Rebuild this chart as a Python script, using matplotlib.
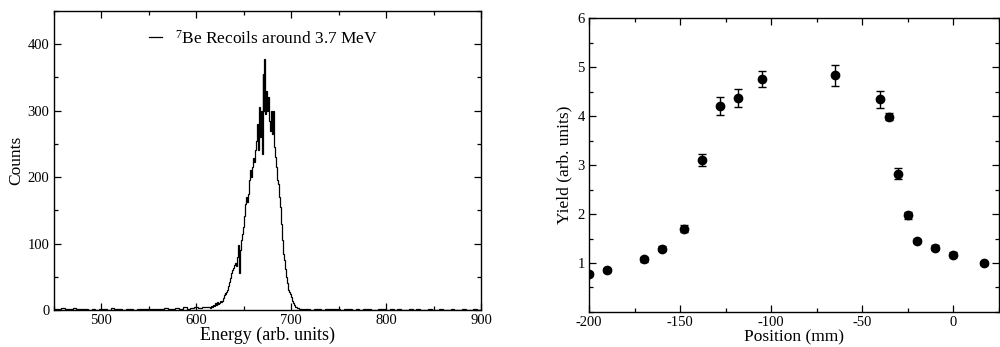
import numpy as np
import matplotlib.pyplot as plt
from matplotlib.ticker import MultipleLocator, FixedLocator

plt.rcParams['font.family'] = ['Liberation Serif', 'DejaVu Serif']
plt.rcParams['mathtext.fontset'] = 'custom'
plt.rcParams['mathtext.rm'] = 'Liberation Serif'
plt.rcParams['mathtext.it'] = 'Liberation Serif:italic'
plt.rcParams['axes.unicode_minus'] = False

# --- left panel: 7Be recoil energy spectrum ---
# background below the peak, 4-unit bins starting at 450
bg_left_start = 450
bg_left_width = 4
bg_left_counts = [2, 1, 3, 2, 1, 3, 2, 1, 2, 0, 1, 0, 1, 1, 0, 3, 1, 1, 0, 1,
                  1, 0, 1, 2, 1, 1, 2, 1, 2, 3, 1, 2, 3, 2, 4, 2, 3, 4, 3, 4, 5]
# peak region, 1-unit bins starting at 614
peak_start = 614
peak_counts = [4, 3, 6, 5, 8, 6, 10, 7, 12, 9, 11, 14, 12, 13, 18, 22, 25, 24, 27, 30,
               36, 42, 48, 55, 60, 63, 68, 70, 66, 80, 98, 55, 90, 105, 115, 125, 130, 142, 160, 170,
               163, 175, 195, 210, 200, 215, 228, 222, 240, 255, 280, 240, 305, 260, 300, 235, 355, 300, 378, 295,
               330, 300, 320, 285, 270, 300, 265, 300, 245, 230, 215, 195, 190, 170, 155, 130, 125, 105, 85, 75,
               62, 50, 40, 30, 27, 24, 20, 14, 10, 7, 5, 4, 3, 3, 2, 1, 2, 1, 1, 0,
               1, 1]
# background above the peak, 4-unit bins starting at 716
bg_right_start = 716
bg_right_width = 4
bg_right_counts = [1, 0, 1, 1, 0, 1, 1, 2, 1, 0, 1, 1, 0, 1, 0, 1, 1, 0, 0, 1,
                   1, 0, 2, 0, 1, 0, 0, 1, 0, 1, 0, 0, 1, 0, 0, 1, 0, 0, 1, 0,
                   0, 1, 0, 0, 1, 0]

# --- right panel: yield vs position ---
position = [-200, -190, -170, -160, -148, -138, -128, -118, -105, -65,
            -40, -35, -30, -25, -20, -10, 0, 17]
yield_val = [0.77, 0.85, 1.08, 1.29, 1.70, 3.10, 4.20, 4.37, 4.76, 4.83,
             4.34, 3.99, 2.82, 1.97, 1.45, 1.31, 1.17, 0.99]
yield_err = [0.04, 0.04, 0.05, 0.05, 0.07, 0.13, 0.18, 0.18, 0.16, 0.21,
             0.17, 0.07, 0.11, 0.07, 0.05, 0.05, 0.05, 0.04]

counts = np.array(bg_left_counts + peak_counts + bg_right_counts)
edges = np.concatenate([
    bg_left_start + bg_left_width * np.arange(len(bg_left_counts)),
    peak_start + np.arange(len(peak_counts)),
    bg_right_start + bg_right_width * np.arange(len(bg_right_counts) + 1),
])

fig = plt.figure(figsize=(10, 3.47), dpi=100)
ax1 = fig.add_axes([0.0535, 0.1066, 0.4275, 0.862])
ax2 = fig.add_axes([0.589, 0.1009, 0.4095, 0.8471])


def style(ax):
    ax.tick_params(which='both', direction='in', top=True, right=True, labelsize=10.5,
                   width=0.9, pad=3)
    ax.tick_params(which='major', length=5)
    ax.tick_params(which='minor', length=3)
    for s in ax.spines.values():
        s.set_linewidth(1.0)


ax1.stairs(counts, edges, color='black', lw=0.9,
           label=r'$^{7}$Be Recoils around 3.7 MeV')
ax1.set_xlim(450, 900)
ax1.set_ylim(0, 450)
ax1.xaxis.set_major_locator(MultipleLocator(100))
ax1.xaxis.set_minor_locator(MultipleLocator(50))
ax1.yaxis.set_major_locator(MultipleLocator(100))
ax1.yaxis.set_minor_locator(MultipleLocator(50))
style(ax1)
ax1.set_xlabel('Energy (arb. units)', fontsize=13, labelpad=0)
ax1.set_ylabel('Counts', fontsize=12.5, labelpad=2)
leg = ax1.legend(loc='upper center', bbox_to_anchor=(0.49, 0.99), frameon=False,
                 handlelength=0.8, handletextpad=0.7, fontsize=12.5)

ax2.errorbar(position, yield_val, yerr=yield_err, fmt='o', color='black',
             markersize=6, capsize=3, elinewidth=1, capthick=1)
ax2.set_xlim(-200, 25)
ax2.set_ylim(0, 6)
ax2.xaxis.set_major_locator(MultipleLocator(50))
ax2.xaxis.set_minor_locator(MultipleLocator(25))
ax2.yaxis.set_major_locator(FixedLocator([1, 2, 3, 4, 5, 6]))
ax2.yaxis.set_minor_locator(MultipleLocator(0.5))
style(ax2)
ax2.set_xlabel('Position (mm)', fontsize=12.5, labelpad=0)
ax2.set_ylabel('Yield (arb. units)', fontsize=12.5, labelpad=4)

fig.savefig('out.png', dpi=100)
